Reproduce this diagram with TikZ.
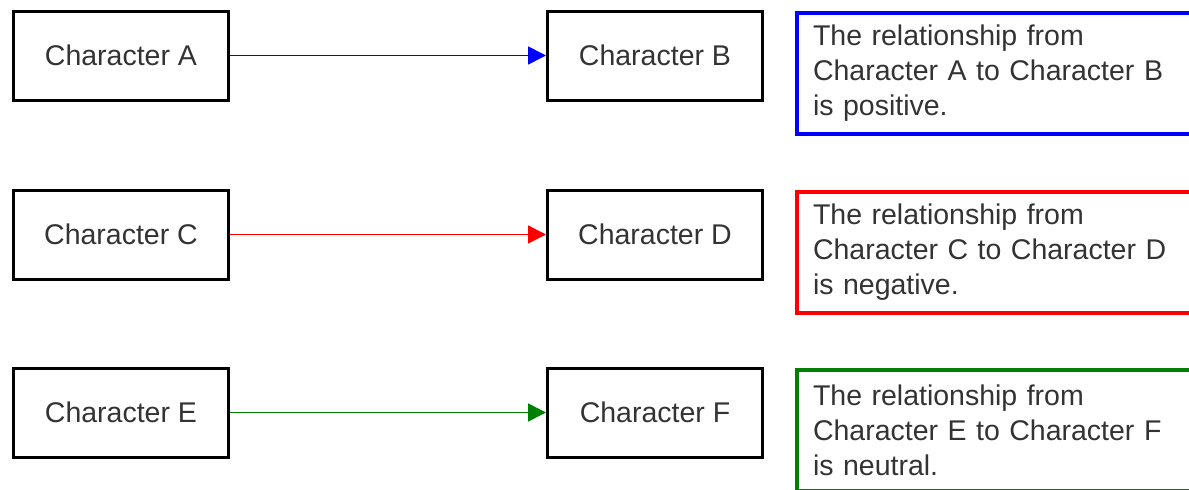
\documentclass[tikz,border=0pt]{standalone}
\usepackage{fontspec}
\setmainfont{Liberation Sans}
\usetikzlibrary{arrows.meta}

\definecolor{posblue}{RGB}{0,0,255}
\definecolor{negred}{RGB}{255,0,0}
\definecolor{neugreen}{RGB}{0,128,0}
\definecolor{inkgray}{RGB}{51,51,51}

\tikzset{
  labelfont/.style={text=inkgray, font=\fontsize{28.5}{35}\selectfont},
  charbox/.style={draw, line width=3pt, minimum width=215pt, minimum height=89pt, labelfont},
  notebox/.style={draw=#1, line width=4pt, anchor=north west, text width=380pt,
    align=left, inner xsep=16pt, minimum height=121pt, labelfont},
  relarrow/.style={draw=#1, line width=1.6pt, -{Triangle[length=18pt,width=18pt]}}
}

\begin{document}
\begin{tikzpicture}[x=1pt,y=-1pt]
  \useasboundingbox (0,0) rectangle (1189,490);
  \clip (0,0) rectangle (1189,490);

  \foreach \p/\q/\col/\kind/\y in {A/B/posblue/positive/55.5,
                                    C/D/negred/negative/234.5,
                                    E/F/neugreen/neutral/412.5} {
    \node[charbox] (char\p) at (121, \y) {Character \p};
    \node[charbox] (char\q) at (655, \y) {Character \q};

    \draw[relarrow=\col] (char\p) -- (char\q);

    \node[notebox=\col] (note\p) at (795, \y - 44.8)
      {The relationship from\\Character \p{} to Character \q\\is \kind.};
  }
\end{tikzpicture}
\end{document}
